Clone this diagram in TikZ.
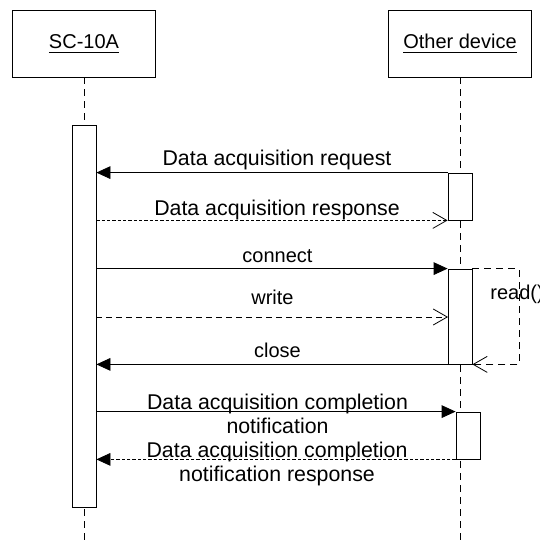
\documentclass[tikz,border=0pt]{standalone}
\usepackage{fontspec}
\setmainfont{Liberation Sans}
\usetikzlibrary{arrows.meta}
\newcommand{\actorname}[1]{\underline{\rule[-1.2pt]{0pt}{0pt}#1}}

\begin{document}
\begin{tikzpicture}[x=0.75pt,y=-0.75pt,line width=0.6pt,
    actor/.style={draw,minimum width=107.25pt,minimum height=50.25pt,font=\fontsize{15}{18}\selectfont},
    activ/.style={draw,fill=white,minimum width=18pt,inner sep=0pt},
    life/.style={dash pattern=on 5.25pt off 3.75pt},
    call/.style={-{Triangle[length=10.5pt,width=9.5pt]}},
    reply/.style={dash pattern=on 2.5pt off 1.5pt,-{Straight Barb[length=10.5pt,width=12pt]}},
    lbl/.style={font=\fontsize{16}{18}\selectfont,anchor=base,inner sep=0pt},
    lblsm/.style={font=\fontsize{15}{18}\selectfont,anchor=base,inner sep=0pt},
    lbltwo/.style={font=\fontsize{16}{18}\selectfont,align=center,inner sep=0pt}]
    \useasboundingbox (0,0) rectangle (539,545);
    % lifelines
    \node[actor] (sc) at (84,43.5) {\actorname{SC-10A}};
    \node[actor] (od) at (460,43.5) {\actorname{Other device}};
    \coordinate (scend) at (84,545);
    \coordinate (odend) at (460,545);
    \draw[life] (sc.south) -- (scend);
    \draw[life] (od.south) -- (odend);
    % activations
    \node[activ,minimum height=286.5pt] (scact) at (84,316) {};
    \node[activ,minimum height=35.25pt] (act1) at (460,196.5) {};
    \node[activ,minimum height=71.25pt] (act2) at (460,316.5) {};
    \node[activ,minimum height=35.25pt] (act3) at (468,435.5) {};
    % messages
    \draw[call] (act1.north west) -- (scact.east |- act1.north west);
    \node[lbl] (req) at (277,166) {Data acquisition request};
    \draw[reply] (scact.east |- act1.south west) -- (act1.south west);
    \node[lbl] (resp) at (277,215) {Data acquisition response};
    \draw[call] (scact.east |- act2.north west) -- (act2.north west);
    \node[lblsm] (conn) at (277.5,262) {connect};
    \coordinate (wr) at (448,317);
    \draw[dash pattern=on 4.5pt off 3pt,-{Straight Barb[length=10.5pt,width=12pt]}] (scact.east |- wr) -- (wr);
    \node[lblsm] (write) at (272.5,304) {write};
    \draw[call] (act2.south west) -- (scact.east |- act2.south west);
    \node[lblsm] (close) at (277.5,357) {close};
    \coordinate (loop) at (519,316);
    \draw[life,-{Straight Barb[length=10.5pt,width=12pt]}] (act2.north east) -- (loop |- act2.north east) -- (loop |- act2.south east) -- (act2.south east);
    \node[lblsm,anchor=base west] (read) at (490,299) {read()};
    \draw[call] (scact.east |- act3.north west) -- (act3.north west);
    \node[lbltwo] (ntf) at (277.5,413.5) {Data acquisition completion\\notification};
    \draw[call,dash pattern=on 2.5pt off 1.5pt] (act3.south west) -- (scact.east |- act3.south west);
    \node[lbltwo] (ntfresp) at (277,463.7) {Data acquisition completion\\notification response};
\end{tikzpicture}
\end{document}
